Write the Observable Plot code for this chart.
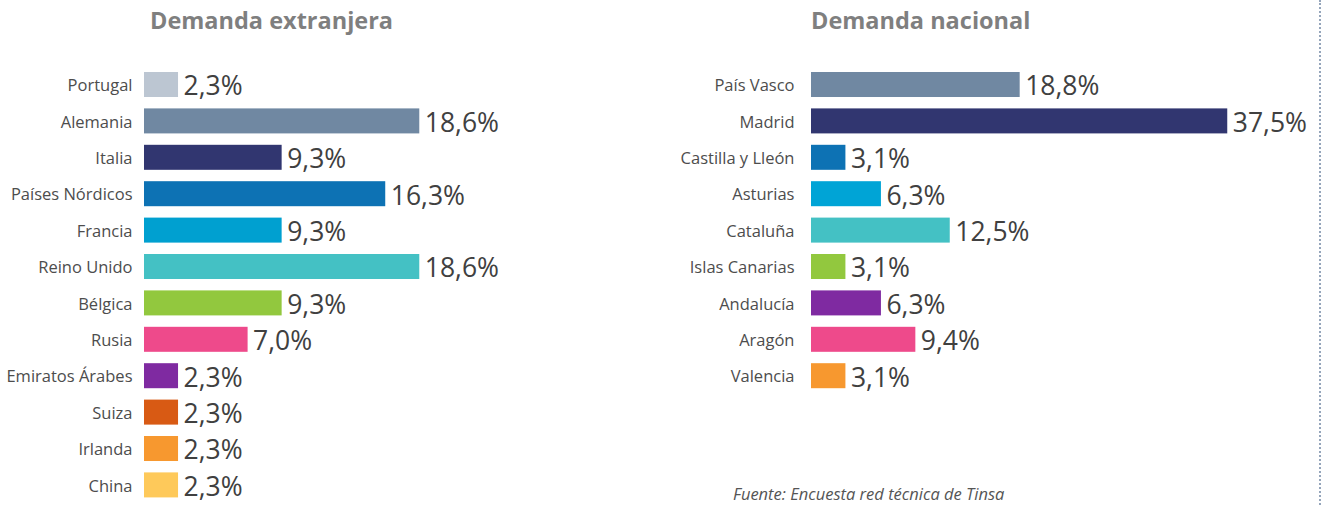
<!DOCTYPE html>
<html>
<head>
<meta charset="utf-8">
<script src="https://cdn.jsdelivr.net/npm/d3@7"></script>
<script src="https://cdn.jsdelivr.net/npm/@observablehq/plot@0.6"></script>
<style>
  body { margin: 0; background: #fff; }
  #wrap { position: relative; width: 1324px; height: 505px; overflow: hidden; font-family: "Open Sans", sans-serif; background: #fff; }
  .title { position: absolute; top: 9px; font-weight: 700; font-size: 23.5px; line-height: 23.5px; color: #7f7f7f; white-space: nowrap; }
  .panel { position: absolute; top: 0; }
  .caption { position: absolute; left: 733px; top: 486px; font-style: italic; font-size: 16.5px; line-height: 16.5px; color: #555; white-space: nowrap; }
  .divider { position: absolute; left: 1319px; top: 0; height: 505px; width: 0; border-left: 2px dotted #95a5bb; }
</style>
</head>
<body>
<div id="wrap">
  <div class="title" style="left:150px">Demanda extranjera</div>
  <div class="title" style="left:811px">Demanda nacional</div>
  <div class="panel" id="left" style="left:0px"></div>
  <div class="panel" id="right" style="left:660px"></div>
  <div class="caption">Fuente: Encuesta red técnica de Tinsa</div>
  <div class="divider"></div>
</div>
<script>
// ---- Data ----
const foreignNames = ["Portugal", "Alemania", "Italia", "Países Nórdicos", "Francia", "Reino Unido",
  "Bélgica", "Rusia", "Emiratos Árabes", "Suiza", "Irlanda", "China"];
const foreignValues = [2.3, 18.6, 9.3, 16.3, 9.3, 18.6, 9.3, 7.0, 2.3, 2.3, 2.3, 2.3];

const nationalNames = ["País Vasco", "Madrid", "Castilla y Lleón", "Asturias", "Cataluña",
  "Islas Canarias", "Andalucía", "Aragón", "Valencia"];
const nationalValues = [18.8, 37.5, 3.1, 6.3, 12.5, 3.1, 6.3, 9.4, 3.1];

// ---- Palettes ----
const foreignColors = ["#bcc6d2", "#7088a2", "#313670", "#0d72b4", "#00a0d0", "#44c1c4",
  "#92c83e", "#ee4a8b", "#7f2aa1", "#d85a14", "#f7982f", "#fec95a"];
const nationalColors = ["#7088a2", "#313670", "#0d72b4", "#00a4d6", "#44c1c4",
  "#92c83e", "#7f2aa1", "#ee4a8b", "#f7982f"];

const fmt = v => v.toFixed(1).replace(".", ",") + "%";

function panel(names, values, colors, width, x0, ppu, xMax, gap) {
  const data = names.map((n, i) => ({name: n, value: values[i]}));
  const step = 36.4, pad = 0.313, top = 72;
  return Plot.plot({
    width, height: 505,
    margin: 0,
    style: {fontFamily: "Open Sans, sans-serif", background: "transparent", overflow: "visible"},
    x: {domain: [0, xMax], range: [x0, x0 + xMax * ppu], axis: null},
    y: {domain: names, range: [top, top + step * (names.length - pad)], paddingInner: pad, paddingOuter: 0, round: false, axis: null},
    color: {domain: names, range: colors},
    marks: [
      Plot.barX(data, {x: "value", y: "name", fill: "name"}),
      Plot.text(data, {x: 0, y: "name", text: "name", textAnchor: "end", dx: -gap, dy: 1,
        fontSize: 16.5, fill: "#4d4d4d"}),
      Plot.text(data, {x: "value", y: "name", text: d => fmt(d.value), textAnchor: "start", dx: 5, dy: 2,
        fontSize: 26.5, fill: "#404040"})
    ]
  });
}

document.getElementById("left").appendChild(
  panel(foreignNames, foreignValues, foreignColors, 660, 144, 14.8, 20, 12));
document.getElementById("right").appendChild(
  panel(nationalNames, nationalValues, nationalColors, 664, 151, 11.1, 40, 17));
</script>
</body>
</html>
